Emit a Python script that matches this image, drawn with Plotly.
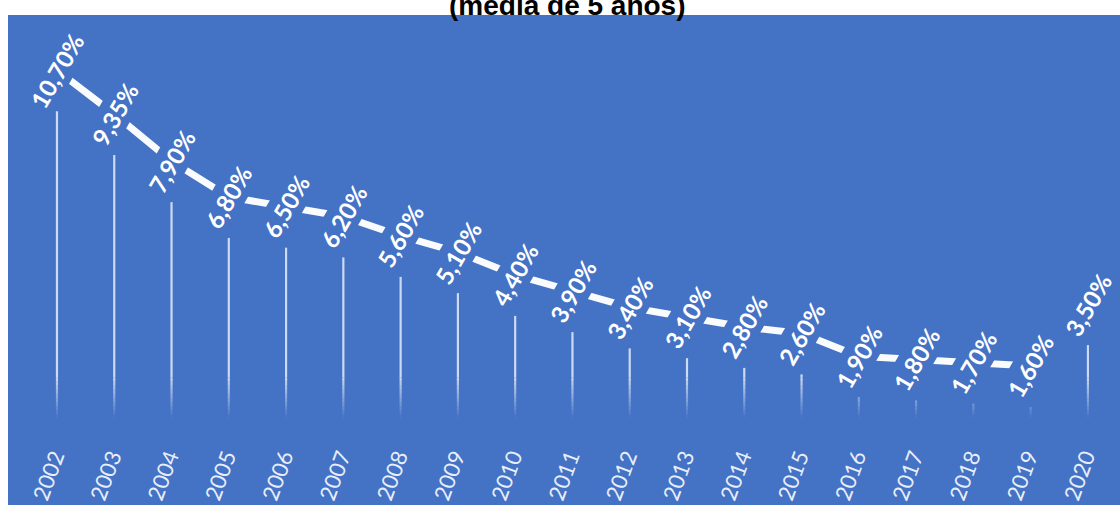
import plotly.graph_objects as go

# Taxa média (5 anos) por ano
years = ["2002", "2003", "2004", "2005", "2006", "2007", "2008", "2009", "2010", "2011",
         "2012", "2013", "2014", "2015", "2016", "2017", "2018", "2019", "2020"]
values = [10.70, 9.35, 7.90, 6.80, 6.50, 6.20, 5.60, 5.10, 4.40, 3.90,
          3.40, 3.10, 2.80, 2.60, 1.90, 1.80, 1.70, 1.60, 3.50]
labels = ["10,70%", "9,35%", "7,90%", "6,80%", "6,50%", "6,20%", "5,60%", "5,10%", "4,40%", "3,90%",
          "3,40%", "3,10%", "2,80%", "2,60%", "1,90%", "1,80%", "1,70%", "1,60%", "3,50%"]
trend_years = years[:-1]
trend_values = values[:-1]

BLUE = "#4472C4"
LIFT = 1.26          # trend line / label offset above each stem, in axis units
FADE_TOP = 2.5       # stems fade out between these two axis levels
FADE_BOTTOM = 1.25
N_FADE = 10

fig = go.Figure()

# stems: solid upper part
xs, ys = [], []
for yr, v in zip(years, values):
    if v > FADE_TOP:
        xs += [yr, yr, None]
        ys += [v, FADE_TOP, None]
fig.add_trace(go.Scatter(x=xs, y=ys, mode="lines", hoverinfo="skip", showlegend=False,
                         line=dict(color="rgba(228,236,250,0.85)", width=2.2)))

# stems: fading lower part
step = (FADE_TOP - FADE_BOTTOM) / N_FADE
for k in range(N_FADE):
    hi = FADE_TOP - k * step
    lo = hi - step
    alpha = 0.85 * (1 - (k + 0.5) / N_FADE)
    xs, ys = [], []
    for yr, v in zip(years, values):
        top = min(v, hi)
        if top > lo:
            xs += [yr, yr, None]
            ys += [top, lo, None]
    fig.add_trace(go.Scatter(x=xs, y=ys, mode="lines", hoverinfo="skip", showlegend=False,
                             line=dict(color=f"rgba(228,236,250,{alpha:.3f})", width=2.2)))

# trend line through the label centres
fig.add_trace(go.Scatter(x=trend_years, y=[v + LIFT for v in trend_values], mode="lines",
                         hoverinfo="skip", showlegend=False,
                         line=dict(color="rgba(255,255,255,0.97)", width=7)))

# value labels (blue box hides the trend line underneath); category index as x
for i, (v, t) in enumerate(zip(values, labels)):
    fig.add_annotation(x=i, y=v + LIFT, text=f"<b>{t}</b>", showarrow=False,
                       textangle=-60, xanchor="center", yanchor="middle",
                       bgcolor=BLUE, borderpad=2,
                       font=dict(family="Lato", size=24, color="white"))

fig.add_annotation(xref="paper", yref="paper", x=0.503, y=1, yanchor="bottom", yshift=-8,
                   text="<b>(média de 5 anos)</b>", showarrow=False,
                   font=dict(family="Liberation Sans", size=28, color="black"))

fig.update_layout(
    width=1120, height=505,
    margin=dict(l=8, r=0, t=15, b=0),
    paper_bgcolor="white", plot_bgcolor=BLUE,
    xaxis=dict(type="category", categoryorder="array", categoryarray=years,
               range=[-0.855, 18.56], showgrid=False, zeroline=False,
               showline=False, ticks="", tickangle=-70, ticklabelposition="inside",
               ticklabelshift=-20, ticklabelstandoff=-12,
               tickfont=dict(family="Lato", size=22, color="#e8eef9")),
    yaxis=dict(range=[-1.42, 13.66], visible=False, showgrid=False, zeroline=False),
)

fig.write_html("out.html")
